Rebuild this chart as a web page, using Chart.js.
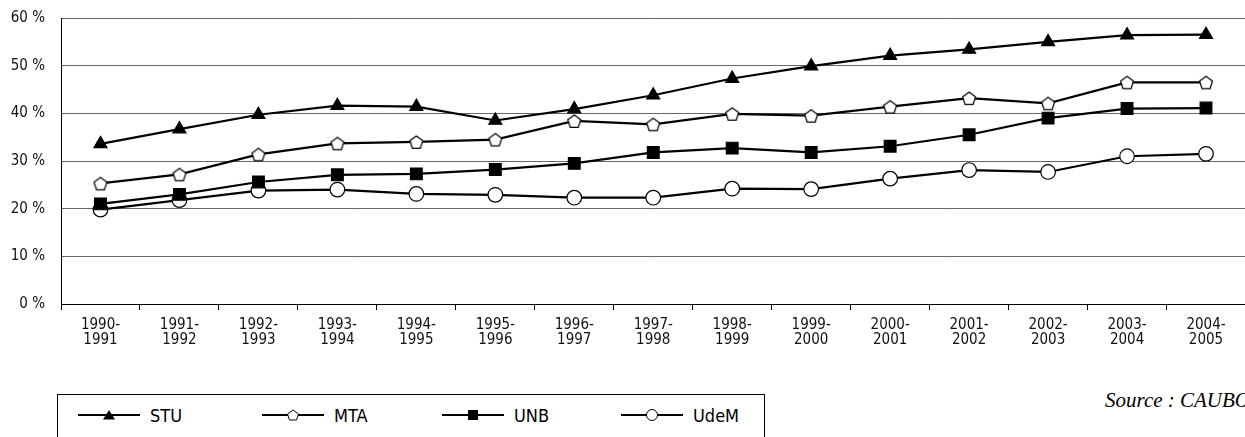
<!DOCTYPE html>
<html>
<head>
<meta charset="utf-8">
<script src="https://cdn.jsdelivr.net/npm/chart.js@4/dist/chart.umd.min.js"></script>
<style>
  html, body { margin: 0; padding: 0; overflow: hidden; background: #fff; }
  body { width: 1245px; height: 437px; position: relative; }
  #wrap { position: absolute; left: 0; top: 0; width: 1255px; height: 360px; }
  #legend {
    position: absolute; left: 57px; top: 394px; width: 708px; height: 60px;
    border: 1px solid #000; box-sizing: border-box;
    font-family: "Liberation Sans Narrow", "DejaVu Sans Condensed", sans-serif;
    font-size: 18px; color: #000;
  }
  .item { position: absolute; top: 8px; height: 24px; display: flex; align-items: center; }
  .item svg { margin-right: 10px; }
  #source {
    position: absolute; left: 1105px; top: 390px; white-space: nowrap;
    font-family: "Liberation Serif", "DejaVu Serif", serif; font-style: italic;
    font-size: 21px; line-height: 21px; color: #000;
  }
</style>
</head>
<body>
<div id="wrap"><canvas id="myChart"></canvas></div>
<div id="legend"></div>
<div id="source">Source : CAUBO</div>
<script>
// =============================
// données
// =============================
const years = [
    ["1990-", "1991"], ["1991-", "1992"], ["1992-", "1993"], ["1993-", "1994"],
    ["1994-", "1995"], ["1995-", "1996"], ["1996-", "1997"], ["1997-", "1998"],
    ["1998-", "1999"], ["1999-", "2000"], ["2000-", "2001"], ["2001-", "2002"],
    ["2002-", "2003"], ["2003-", "2004"], ["2004-", "2005"]
];
const stu  = [33.6, 36.7, 39.7, 41.6, 41.4, 38.5, 40.9, 43.8, 47.3, 49.9, 52.1, 53.4, 55.0, 56.4, 56.5];
const mta  = [25.3, 27.2, 31.4, 33.7, 34.0, 34.5, 38.4, 37.7, 39.9, 39.5, 41.4, 43.2, 42.1, 46.5, 46.5];
const unb  = [21.0, 23.0, 25.6, 27.1, 27.3, 28.2, 29.5, 31.8, 32.7, 31.8, 33.1, 35.5, 39.0, 41.0, 41.1];
const udem = [19.8, 21.8, 23.8, 24.0, 23.1, 22.9, 22.3, 22.3, 24.2, 24.1, 26.3, 28.1, 27.7, 31.0, 31.5];
const yTicks = [0, 10, 20, 30, 40, 50, 60];

const narrow = "'Liberation Sans Narrow', 'DejaVu Sans Condensed', sans-serif";

// pentagone blanc (pas dispo dans Chart.js)
function makePentagon(size){
    const c = document.createElement("canvas");
    c.width = size; c.height = size;
    const ctx = c.getContext("2d");
    const r = size / 2 - 1.2;
    ctx.beginPath();
    for(let i = 0; i < 5; i++){
        const a = -Math.PI / 2 + i * 2 * Math.PI / 5;
        const px = size / 2 + r * Math.cos(a);
        const py = size / 2 + 0.8 + r * Math.sin(a);
        if(i === 0) ctx.moveTo(px, py); else ctx.lineTo(px, py);
    }
    ctx.closePath();
    ctx.fillStyle = "#fff";
    ctx.fill();
    ctx.lineWidth = 1.2;
    ctx.strokeStyle = "#000";
    ctx.stroke();
    return c;
}
const pentagon = makePentagon(16);

function serie(label, data, style, radius, fill){
    return {
        label: label,
        data: data,
        borderColor: "#000",
        borderWidth: 2.2,
        tension: 0,
        pointStyle: style,
        pointRadius: radius,
        pointHoverRadius: radius,
        pointBackgroundColor: fill,
        pointBorderColor: "#000",
        pointBorderWidth: 1.2
    };
}

new Chart(document.getElementById("myChart"), {
    type: "line",
    data: {
        labels: years,
        datasets: [
            serie("STU", stu, "triangle", 7.5, "#000"),
            serie("MTA", mta, pentagon, 7, "#fff"),
            serie("UNB", unb, "rect", 8.3, "#000"),
            serie("UdeM", udem, "circle", 7.3, "#fff")
        ]
    },
    options: {
        responsive: true,
        maintainAspectRatio: false,
        animation: false,
        layout: { padding: { top: 18, left: 0, right: 0, bottom: 0 } },
        plugins: {
            legend: { display: false },
            tooltip: { enabled: false }
        },
        scales: {
            x: {
                offset: true,
                grid: {
                    offset: true,
                    drawOnChartArea: false,
                    tickLength: 6,
                    tickColor: "#000"
                },
                border: { color: "#000", width: 1 },
                ticks: {
                    color: "#111",
                    autoSkip: false,
                    maxRotation: 0,
                    padding: 8,
                    font: { family: narrow, size: 15, lineHeight: 1.0 }
                },
                afterFit: (s) => { s.height = 56; }
            },
            y: {
                min: 0,
                max: 60,
                afterBuildTicks: (s) => { s.ticks = yTicks.map(v => ({ value: v })); },
                grid: { color: "#666", lineWidth: 1, tickLength: 14, tickColor: "rgba(0,0,0,0)" },
                border: { color: "#000", width: 1 },
                ticks: {
                    color: "#111",
                    padding: 2,
                    font: { family: narrow, size: 15 },
                    callback: (v) => v + " %"
                },
                afterFit: (s) => { s.width = 61; }
            }
        }
    }
});

// =============================
// légende
// =============================
const legendItems = [
    { label: "STU", left: 20, mark: '<polygon points="31,3 37,12.5 25,12.5" fill="#000"/>' },
    { label: "MTA", left: 204, mark: '<polygon points="31,3 36.5,7 34.5,13 27.5,13 25.5,7" fill="#fff" stroke="#000" stroke-width="1"/>' },
    { label: "UNB", left: 384, mark: '<rect x="26" y="3" width="10" height="10" fill="#000"/>' },
    { label: "UdeM", left: 563, mark: '<circle cx="31" cy="8" r="5.5" fill="#fff" stroke="#000" stroke-width="1"/>' }
];
const legendDiv = document.getElementById("legend");
legendItems.forEach(it => {
    const d = document.createElement("div");
    d.className = "item";
    d.style.left = it.left + "px";
    d.innerHTML = '<svg width="62" height="16"><line x1="0" y1="8" x2="62" y2="8" stroke="#000" stroke-width="2"/>' +
        it.mark + '</svg><span>' + it.label + '</span>';
    legendDiv.appendChild(d);
});
</script>
</body>
</html>
